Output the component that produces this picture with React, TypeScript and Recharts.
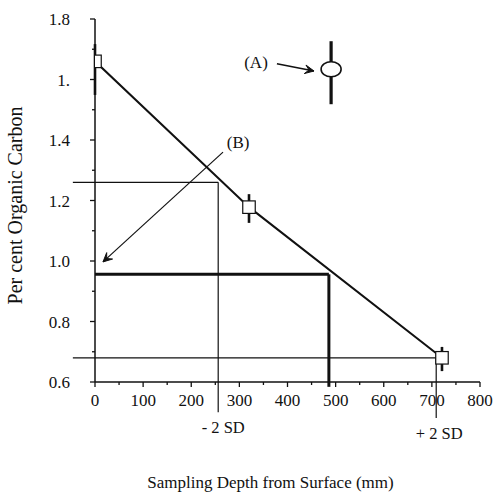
import React from "react";
import {
  ComposedChart,
  Line,
  XAxis,
  YAxis,
  ErrorBar,
  ReferenceLine,
  ReferenceDot,
  Label,
} from "recharts";

// ---- data ----
const depths = [0, 320, 721];
const carbon = [1.66, 1.178, 0.68];
const errLow = [1.549, 1.126, 0.636];
const errHigh = [1.717, 1.221, 0.716];

const xTickValues = [0, 50, 100, 150, 200, 250, 300, 350, 400, 450, 500, 550, 600, 650, 700, 750, 800];
const xMajor = [0, 100, 200, 300, 400, 500, 600, 700, 800];
const xMajorLabels = ["0", "100", "200", "300", "400", "500", "600", "700", "800"];

const yTickValues = [0.6, 0.7, 0.8, 0.9, 1.0, 1.1, 1.2, 1.3, 1.4, 1.5, 1.6, 1.7, 1.8];
const yMajor = [0.6, 0.8, 1.0, 1.2, 1.4, 1.6, 1.8];
const yMajorLabels = ["0.6", "0.8", "1.0", "1.2", "1.4", "1.", "1.8"];

// reference construction values
const sdLowDepth = 256;
const sdLowCarbon = 1.26;
const sdHighDepth = 709;
const sdHighCarbon = 0.68;
const meanDepth = 486;
const meanCarbon = 0.956;
const leftExtent = -46;
const sdLowBottom = 0.5;
const sdHighBottom = 0.481;
const meanBottom = 0.584;

// annotations
const annA = { textX: 310, textY: 1.638, arrowFrom: [378, 1.652], arrowTo: [455, 1.628], iconX: 490.6, iconY: 1.634 };
const annB = { textX: 274, textY: 1.374, arrowFrom: [266, 1.36], arrowTo: [16.6, 0.997] };

const data = depths.map((d, i) => ({
  depth: d,
  carbon: carbon[i],
  err: [carbon[i] - errLow[i], errHigh[i] - carbon[i]],
}));

const FONT = "Liberation Serif";
const INK = "#111";

const XTick = (props: any) => {
  const { x, y, payload } = props;
  const v = payload.value;
  const idx = xMajor.indexOf(v);
  const major = idx >= 0;
  return (
    <g>
      <line x1={x} y1={y} x2={x} y2={y + (major ? 5 : 3)} stroke={INK} strokeWidth={1.3} />
      {major && (
        <text x={x} y={y + 24} textAnchor="middle" style={{ fontFamily: FONT, fontSize: 17 }} fill={INK}>
          {xMajorLabels[idx]}
        </text>
      )}
    </g>
  );
};

const YTick = (props: any) => {
  const { x, y, payload } = props;
  const v = payload.value;
  const idx = yMajor.findIndex((m) => Math.abs(m - v) < 1e-6);
  const major = idx >= 0;
  return (
    <g>
      <line x1={x} y1={y} x2={x - (major ? 5 : 3)} y2={y} stroke={INK} strokeWidth={1.3} />
      {major && (
        <text x={x - 25} y={y + 6} textAnchor="end" style={{ fontFamily: FONT, fontSize: 17 }} fill={INK}>
          {yMajorLabels[idx]}
        </text>
      )}
    </g>
  );
};

const SquareDot = (props: any) => {
  const { cx, cy, index } = props;
  if (cx == null || cy == null) return <g key={index} />;
  const s = 12.5;
  return (
    <rect key={index} x={cx - s / 2} y={cy - s / 2} width={s} height={s} fill="#fff" stroke={INK} strokeWidth={1.2} />
  );
};

const arrowShape = (width: number) => (props: any) => {
  const { x1, y1, x2, y2 } = props;
  const ang = Math.atan2(y2 - y1, x2 - x1);
  const len = 10;
  const spread = 0.45;
  const ax = x2 - len * Math.cos(ang - spread);
  const ay = y2 - len * Math.sin(ang - spread);
  const bx = x2 - len * Math.cos(ang + spread);
  const by = y2 - len * Math.sin(ang + spread);
  return (
    <g>
      <line x1={x1} y1={y1} x2={x2} y2={y2} stroke={INK} strokeWidth={width} />
      <polygon points={`${x2},${y2} ${ax},${ay} ${x2 - 5 * Math.cos(ang)},${y2 - 5 * Math.sin(ang)} ${bx},${by}`} fill={INK} stroke={INK} strokeWidth={1} strokeLinejoin="miter" />
    </g>
  );
};

const textShape = (value: string, size: number) => (props: any) => {
  const { cx, cy } = props;
  return (
    <text x={cx} y={cy} style={{ fontFamily: FONT, fontSize: size }} fill={INK} textAnchor="start">
      {value}
    </text>
  );
};

const iconShape = (props: any) => {
  const { cx, cy } = props;
  return (
    <g>
      <line x1={cx} y1={cy - 28} x2={cx} y2={cy + 35} stroke={INK} strokeWidth={3.2} />
      <ellipse cx={cx} cy={cy} rx={10} ry={7.5} fill="#fff" stroke={INK} strokeWidth={1.6} />
    </g>
  );
};

const sdLabel = (value: string, dx: number) => (props: any) => {
  const vb = props.viewBox || {};
  const x = vb.x + (vb.width || 0) / 2 + dx;
  const y = vb.y + (vb.height || 0) + 21;
  return (
    <text x={x} y={y} textAnchor="middle" style={{ fontFamily: FONT, fontSize: 16.5 }} fill={INK}>
      {value}
    </text>
  );
};

const yTitle = (props: any) => {
  const vb = props.viewBox;
  const x = vb.x + 22;
  const y = vb.y + vb.height / 2 + 5;
  return (
    <text x={x} y={y} transform={`rotate(-90, ${x}, ${y})`} textAnchor="middle" style={{ fontFamily: FONT, fontSize: 20 }} fill={INK}>
      Per cent Organic Carbon
    </text>
  );
};

const xTitle = (props: any) => {
  const vb = props.viewBox;
  const x = vb.x + vb.width / 2 - 17;
  const y = 488;
  return (
    <text x={x} y={y} textAnchor="middle" style={{ fontFamily: FONT, fontSize: 17 }} fill={INK}>
      Sampling Depth from Surface (mm)
    </text>
  );
};

export default function App() {
  return (
    <div style={{ position: "absolute", left: 0, top: 0, width: 498, height: 492, background: "#fff" }}>
      <ComposedChart
        width={498}
        height={492}
        data={data}
        margin={{ top: 19, right: 18, bottom: 80, left: 0 }}
      >
        <XAxis
          type="number"
          dataKey="depth"
          domain={[0, 800]}
          ticks={xTickValues}
          interval={0}
          tickSize={0}
          tickMargin={0}
          tickLine={false}
          tick={<XTick />}
          height={30}
          axisLine={{ stroke: INK, strokeWidth: 1.5 }}
          allowDataOverflow
        >
          <Label content={xTitle} />
        </XAxis>
        <YAxis
          type="number"
          domain={[0.6, 1.8]}
          ticks={yTickValues}
          interval={0}
          tickSize={0}
          tickMargin={0}
          tickLine={false}
          tick={<YTick />}
          width={95}
          axisLine={{ stroke: INK, strokeWidth: 1.5 }}
          allowDataOverflow
        >
          <Label content={yTitle} />
        </YAxis>

        {/* -2 SD construction */}
        <ReferenceLine
          segment={[{ x: leftExtent, y: sdLowCarbon }, { x: sdLowDepth, y: sdLowCarbon }]}
          stroke={INK}
          strokeWidth={1.2}
          ifOverflow="visible"
        />
        <ReferenceLine
          segment={[{ x: sdLowDepth, y: sdLowCarbon }, { x: sdLowDepth, y: sdLowBottom }]}
          stroke={INK}
          strokeWidth={1.2}
          ifOverflow="visible"
          label={{ content: sdLabel("- 2 SD", 5) }}
        />
        {/* +2 SD construction */}
        <ReferenceLine
          segment={[{ x: leftExtent, y: sdHighCarbon }, { x: sdHighDepth, y: sdHighCarbon }]}
          stroke={INK}
          strokeWidth={1.2}
          ifOverflow="visible"
        />
        <ReferenceLine
          segment={[{ x: sdHighDepth, y: sdHighCarbon }, { x: sdHighDepth, y: sdHighBottom }]}
          stroke={INK}
          strokeWidth={1.2}
          ifOverflow="visible"
          label={{ content: sdLabel("+ 2 SD", 3) }}
        />
        {/* mean construction (thick) */}
        <ReferenceLine
          segment={[{ x: 0, y: meanCarbon }, { x: meanDepth, y: meanCarbon }]}
          stroke={INK}
          strokeWidth={3}
          ifOverflow="visible"
        />
        <ReferenceLine
          segment={[{ x: meanDepth, y: meanCarbon }, { x: meanDepth, y: meanBottom }]}
          stroke={INK}
          strokeWidth={3}
          ifOverflow="visible"
        />

        <Line
          type="linear"
          dataKey="carbon"
          stroke={INK}
          strokeWidth={2}
          dot={<SquareDot />}
          activeDot={false}
          isAnimationActive={false}
        />
        <Line
          type="linear"
          dataKey="carbon"
          stroke="none"
          dot={false}
          activeDot={false}
          isAnimationActive={false}
        >
          <ErrorBar dataKey="err" width={0} stroke={INK} strokeWidth={2.6} direction="y" isAnimationActive={false} />
        </Line>

        {/* annotation (A) */}
        <ReferenceDot x={annA.textX} y={annA.textY} r={1} ifOverflow="visible" shape={textShape("(A)", 17)} />
        <ReferenceLine
          segment={[{ x: annA.arrowFrom[0], y: annA.arrowFrom[1] }, { x: annA.arrowTo[0], y: annA.arrowTo[1] }]}
          ifOverflow="visible"
          shape={arrowShape(1.6)}
        />
        <ReferenceDot x={annA.iconX} y={annA.iconY} r={1} ifOverflow="visible" shape={iconShape} />

        {/* annotation (B) */}
        <ReferenceDot x={annB.textX} y={annB.textY} r={1} ifOverflow="visible" shape={textShape("(B)", 17)} />
        <ReferenceLine
          segment={[{ x: annB.arrowFrom[0], y: annB.arrowFrom[1] }, { x: annB.arrowTo[0], y: annB.arrowTo[1] }]}
          ifOverflow="visible"
          shape={arrowShape(1.2)}
        />
      </ComposedChart>
    </div>
  );
}
